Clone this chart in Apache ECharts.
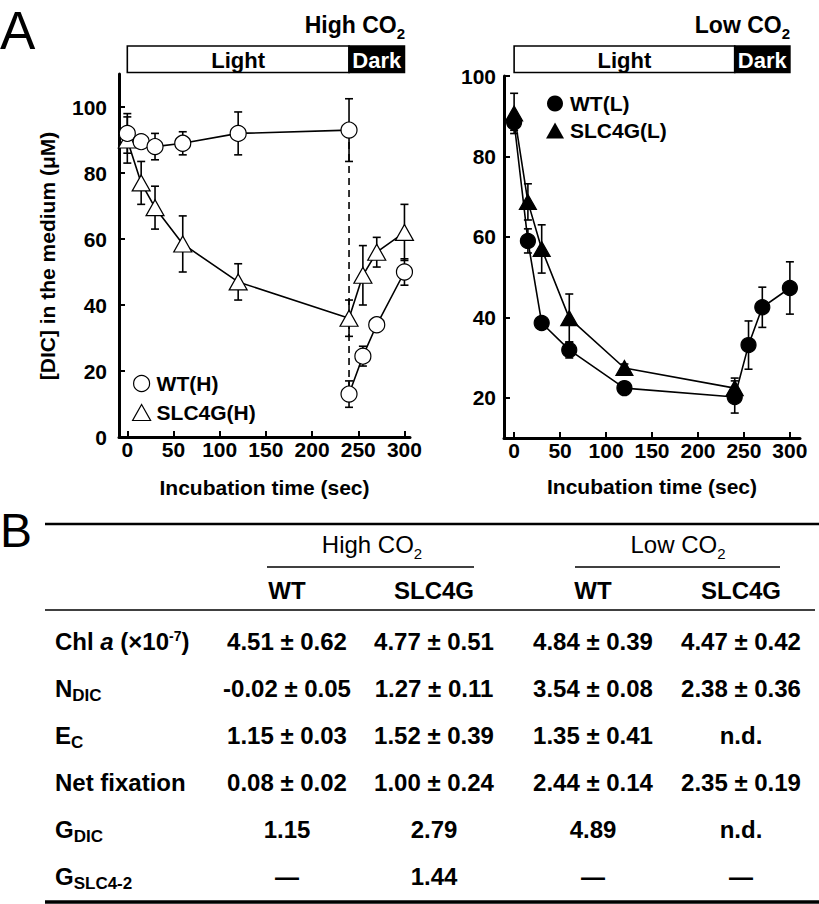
<!DOCTYPE html>
<html><head><meta charset="utf-8">
<script src="https://cdn.jsdelivr.net/npm/echarts@6/dist/echarts.min.js"></script>
<style>html,body{margin:0;padding:0;background:#fff}#c{width:819px;height:904px}</style>
</head><body><div id="c"></div>
<script>
// ---------- data ----------
const timeTicks = [0, 50, 100, 150, 200, 250, 300];
const highYTicks = [0, 20, 40, 60, 80, 100];
const lowYTicks = [20, 40, 60, 80, 100];

const wtH_light_t = [0, 15, 30, 60, 120, 240];
const wtH_light_v = [92, 89.5, 88, 89, 92, 93];
const wtH_light_e = [6, 1, 4, 3.5, 6.5, 9.5];
const wtH_dark_t = [240, 255, 270, 300];
const wtH_dark_v = [13, 24.5, 34, 50];
const wtH_dark_e = [4, 3, 1, 4];
const slcH_t = [0, 15, 30, 60, 120, 240, 255, 270, 300];
const slcH_v = [90, 77, 69.5, 58.5, 47, 36, 49, 56, 62];
const slcH_e = [7, 6.5, 6.5, 8.5, 5.5, 5.5, 9, 4.5, 8.5];

const wtL_t = [0, 15, 30, 60, 120, 240, 255, 270, 300];
const wtL_v = [88.5, 59, 38.6, 31.9, 22.4, 20.2, 33.1, 42.5, 47.3];
const wtL_e = [2, 3, 1.5, 2, 1, 4, 6, 5, 6.5];
const slcL_t = [0, 15, 30, 60, 120, 240];
const slcL_v = [90.7, 68.7, 57, 39.8, 27.4, 22.4];
const slcL_e = [5, 4.5, 6, 6, 1, 2.5];

const phaseNames = ['Light', 'Dark'];
const phaseStart = [0, 240];
const phaseEnd = [240, 300];

const yAxisTitle = '[DIC] in the medium (μM)';
const xAxisTitle = 'Incubation time (sec)';
const tableGroups = ['{m|High CO}{s|2}', '{m|Low CO}{s|2}'];
const tableCols = ['WT', 'SLC4G', 'WT', 'SLC4G'];
const rowLabels = ['{m|Chl }{i|a}{m| (×10}{p|-7}{m|)}', '{m|N}{s|DIC}', '{m|E}{s|C}', '{m|Net fixation}', '{m|G}{s|DIC}', '{m|G}{s|SLC4-2}'];
const rowValues = [
  ['4.51 ± 0.62', '4.77 ± 0.51', '4.84 ± 0.39', '4.47 ± 0.42'],
  ['-0.02 ± 0.05', '1.27 ± 0.11', '3.54 ± 0.08', '2.38 ± 0.36'],
  ['1.15 ± 0.03', '1.52 ± 0.39', '1.35 ± 0.41', 'n.d.'],
  ['0.08 ± 0.02', '1.00 ± 0.24', '2.44 ± 0.14', '2.35 ± 0.19'],
  ['1.15', '2.79', '4.89', 'n.d.'],
  ['—', '1.44', '—', '—']
];

// ---------- helpers ----------
const FONT = '"Liberation Sans", Arial, Helvetica, sans-serif';
const pts = (t, v) => t.map((x, i) => [x, v[i]]);
const errData = (t, v, e) => t.map((x, i) => [x, v[i] - e[i], v[i] + e[i]]);

function errSeries(idx, data) {
  return {
    type: 'custom', xAxisIndex: idx, yAxisIndex: idx, z: 2, silent: true,
    data: data, encode: { x: 0, y: [1, 2] },
    renderItem: function (params, api) {
      const x = api.value(0);
      const a = api.coord([x, api.value(1)]);
      const b = api.coord([x, api.value(2)]);
      const w = 4, st = { stroke: '#000', lineWidth: 1.6 };
      return { type: 'group', children: [
        { type: 'line', shape: { x1: a[0], y1: a[1], x2: b[0], y2: b[1] }, style: st },
        { type: 'line', shape: { x1: a[0] - w, y1: a[1], x2: a[0] + w, y2: a[1] }, style: st },
        { type: 'line', shape: { x1: b[0] - w, y1: b[1], x2: b[0] + w, y2: b[1] }, style: st }
      ] };
    }
  };
}
function phaseSeries(idx) {
  return {
    type: 'custom', xAxisIndex: idx, yAxisIndex: idx, silent: true,
    data: phaseNames.map((n, i) => [phaseStart[i], phaseEnd[i], i]),
    renderItem: function (params, api) {
      const s = api.coord([api.value(0), 1]);
      const e = api.coord([api.value(1), 0]);
      const dark = api.value(2) === 1;
      return { type: 'group', children: [
        { type: 'rect', shape: { x: s[0], y: s[1], width: e[0] - s[0], height: e[1] - s[1] },
          style: { fill: dark ? '#000' : '#fff', stroke: '#000', lineWidth: 1.6 } },
        { type: 'text', x: (s[0] + e[0]) / 2, y: (s[1] + e[1]) / 2 + 1,
          style: { text: phaseNames[params.dataIndex], align: 'center', verticalAlign: 'middle',
            fill: dark ? '#fff' : '#000', fontFamily: FONT, fontSize: 22, fontWeight: 'bold' } }
      ] };
    }
  };
}
const lblStyle = { fontFamily: FONT, fontSize: 21, fontWeight: 'bold', color: '#000' };
function timeAxis(gi, min, max, show, gap) {
  return {
    type: 'value', gridIndex: gi, min: min, max: max, show: show,
    name: show ? xAxisTitle : '', nameLocation: 'middle', nameGap: gap,
    nameTextStyle: lblStyle,
    axisLine: { onZero: false, lineStyle: { color: '#000', width: 3 } },
    axisTick: { inside: true, length: 6, lineStyle: { width: 2, color: '#000' }, customValues: timeTicks },
    axisLabel: Object.assign({ customValues: timeTicks, margin: 2 }, lblStyle),
    splitLine: { show: false }
  };
}
function valAxis(gi, min, max, ticks, margin) {
  return {
    type: 'value', gridIndex: gi, min: min, max: max,
    axisLine: { onZero: false, lineStyle: { color: '#000', width: 3 } },
    axisTick: { inside: true, length: 6, lineStyle: { width: 2, color: '#000' }, customValues: ticks },
    axisLabel: Object.assign({ customValues: ticks, margin: margin }, lblStyle),
    splitLine: { show: false }
  };
}
function lineSeries(idx, name, data, symbol, size, fill, z) {
  return {
    type: 'line', name: name, xAxisIndex: idx, yAxisIndex: idx, data: data, z: z || 3,
    symbol: symbol, symbolSize: size, showAllSymbol: true,
    lineStyle: { color: '#000', width: 1.6 },
    itemStyle: { color: fill, borderColor: '#000', borderWidth: 1.2 },
    emphasis: { disabled: true }
  };
}

// ---------- annotation / table graphics ----------
const rowRich = {
  m: { fontFamily: FONT, fontSize: 24, fontWeight: 'bold', lineHeight: 24, verticalAlign: 'top', fill: '#000' },
  i: { fontFamily: FONT, fontSize: 24, fontWeight: 'bold', fontStyle: 'italic', lineHeight: 24, verticalAlign: 'top', fill: '#000' },
  s: { fontFamily: FONT, fontSize: 17, fontWeight: 'bold', lineHeight: 28, verticalAlign: 'bottom', fill: '#000' },
  p: { fontFamily: FONT, fontSize: 14, fontWeight: 'bold', lineHeight: 14, verticalAlign: 'top', fill: '#000' }
};
const titleRich = {
  m: { fontFamily: FONT, fontSize: 23, fontWeight: 'bold', lineHeight: 23, verticalAlign: 'top', fill: '#000' },
  s: { fontFamily: FONT, fontSize: 15, fontWeight: 'bold', lineHeight: 28, verticalAlign: 'bottom', fill: '#000' }
};
const hdrRich = {
  m: { fontFamily: FONT, fontSize: 24, fontWeight: 'normal', lineHeight: 24, verticalAlign: 'top', fill: '#000' },
  s: { fontFamily: FONT, fontSize: 15, fontWeight: 'normal', lineHeight: 29, verticalAlign: 'bottom', fill: '#000' }
};
const colX = [287, 434, 593, 741];
const groupX = [372, 678];
const groupLine = [[267, 474], [575, 780]];
const rowY0 = 641, rowStep = 47;
const graphics = [];
graphics.push({ type: 'text', x: 0, y: 30, style: { text: 'A', fontFamily: FONT, fontSize: 53, fill: '#000', verticalAlign: 'middle' } });
graphics.push({ type: 'text', x: 0, y: 530, style: { text: 'B', fontFamily: FONT, fontSize: 48, fill: '#000', verticalAlign: 'middle' } });
graphics.push({ type: 'text', x: 47, y: 256, rotation: Math.PI / 2,
  style: { text: yAxisTitle, fontFamily: FONT, fontSize: 21, fontWeight: 'bold', fill: '#000', align: 'center', verticalAlign: 'middle' } });
graphics.push({ type: 'text', x: 405, y: 13, style: { text: tableGroups[0], rich: titleRich, align: 'right', verticalAlign: 'top' } });
graphics.push({ type: 'text', x: 790, y: 13, style: { text: tableGroups[1], rich: titleRich, align: 'right', verticalAlign: 'top' } });
graphics.push({ type: 'line', shape: { x1: 45, y1: 524, x2: 819, y2: 524 }, style: { stroke: '#000', lineWidth: 2.5 } });
graphics.push({ type: 'line', shape: { x1: 45, y1: 610, x2: 815, y2: 610 }, style: { stroke: '#000', lineWidth: 1.3 } });
graphics.push({ type: 'line', shape: { x1: 45, y1: 902, x2: 819, y2: 902 }, style: { stroke: '#000', lineWidth: 3.5 } });
tableGroups.forEach((g, k) => {
  graphics.push({ type: 'text', x: groupX[k], y: 532, style: { text: g, rich: hdrRich, align: 'center', verticalAlign: 'top' } });
  graphics.push({ type: 'line', shape: { x1: groupLine[k][0], y1: 567, x2: groupLine[k][1], y2: 567 }, style: { stroke: '#000', lineWidth: 1.5 } });
});
tableCols.forEach((c, j) => {
  graphics.push({ type: 'text', x: colX[j], y: 590, style: { text: c, fontFamily: FONT, fontSize: 24, fontWeight: 'bold', fill: '#000', align: 'center', verticalAlign: 'middle' } });
});
rowLabels.forEach((r, i) => {
  const y = rowY0 + i * rowStep;
  graphics.push({ type: 'text', x: 55, y: y - 12, style: { text: r, rich: rowRich, align: 'left', verticalAlign: 'top' } });
  rowValues[i].forEach((v, j) => {
    graphics.push({ type: 'text', x: colX[j], y: y, style: { text: v, fontFamily: FONT, fontSize: 24, fontWeight: 'bold', fill: '#000', align: 'center', verticalAlign: 'middle' } });
  });
});

// ---------- chart ----------
const chart = echarts.init(document.getElementById('c'), null, { renderer: 'svg', width: 819, height: 904 });
const legendText = Object.assign({ padding: [0, 0, 0, 1] }, lblStyle);
chart.setOption({
  animation: false,
  backgroundColor: '#fff',
  grid: [
    { left: 119, top: 74, width: 291, height: 363, outerBoundsMode: 'none', containLabel: false },
    { left: 504, top: 76, width: 296, height: 362, outerBoundsMode: 'none', containLabel: false },
    { left: 119, top: 46, width: 291, height: 26.5, outerBoundsMode: 'none', containLabel: false },
    { left: 504, top: 46, width: 296, height: 26.5, outerBoundsMode: 'none', containLabel: false }
  ],
  xAxis: [
    timeAxis(0, -9, 306, true, 40),
    timeAxis(1, -11, 311, true, 38),
    timeAxis(2, -9, 306, false, 0),
    timeAxis(3, -11, 311, false, 0)
  ],
  yAxis: [
    valAxis(0, 0, 110, highYTicks, 12),
    valAxis(1, 10, 100, lowYTicks, 8),
    { type: 'value', gridIndex: 2, min: 0, max: 1, show: false },
    { type: 'value', gridIndex: 3, min: 0, max: 1, show: false }
  ],
  legend: [
    { orient: 'vertical', left: 127, top: 368, itemWidth: 18, itemHeight: 16, itemGap: 8,
      textStyle: legendText, selectedMode: false,
      data: [
        { name: 'WT(H)', icon: 'circle', itemStyle: { color: '#fff', borderColor: '#000', borderWidth: 1.2 } },
        { name: 'SLC4G(H)', icon: 'triangle', itemStyle: { color: '#fff', borderColor: '#000', borderWidth: 1.2 } }
      ] },
    { orient: 'vertical', left: 541, top: 88, itemWidth: 18, itemHeight: 16, itemGap: 6,
      textStyle: legendText, selectedMode: false,
      data: [
        { name: 'WT(L)', icon: 'circle', itemStyle: { color: '#000', borderColor: '#000', borderWidth: 0 } },
        { name: 'SLC4G(L)', icon: 'triangle', itemStyle: { color: '#000', borderColor: '#000', borderWidth: 0 } }
      ] }
  ],
  graphic: { elements: graphics },
  series: [
    errSeries(0, errData(slcH_t, slcH_v, slcH_e)),
    errSeries(0, errData(wtH_light_t, wtH_light_v, wtH_light_e)),
    errSeries(0, errData(wtH_dark_t, wtH_dark_v, wtH_dark_e)),
    { type: 'line', name: 'dark transition', xAxisIndex: 0, yAxisIndex: 0, z: 1, symbol: 'none', silent: true,
      data: [[wtH_light_t[5], wtH_light_v[5]], [wtH_dark_t[0], wtH_dark_v[0]]],
      lineStyle: { color: '#000', width: 1.6, type: [7, 5] } },
    lineSeries(0, 'SLC4G(H)', pts(slcH_t, slcH_v), 'triangle', [18, 16], '#fff'),
    lineSeries(0, 'WT(H)', pts(wtH_light_t, wtH_light_v), 'circle', 16, '#fff', 4),
    lineSeries(0, 'WT(H) dark', pts(wtH_dark_t, wtH_dark_v), 'circle', 16, '#fff', 4),
    errSeries(1, errData(slcL_t, slcL_v, slcL_e)),
    errSeries(1, errData(wtL_t, wtL_v, wtL_e)),
    lineSeries(1, 'SLC4G(L)', pts(slcL_t, slcL_v), 'triangle', [17, 15], '#000'),
    lineSeries(1, 'WT(L)', pts(wtL_t, wtL_v), 'circle', 15, '#000', 4),
    phaseSeries(2),
    phaseSeries(3)
  ]
});
</script>
</body></html>
